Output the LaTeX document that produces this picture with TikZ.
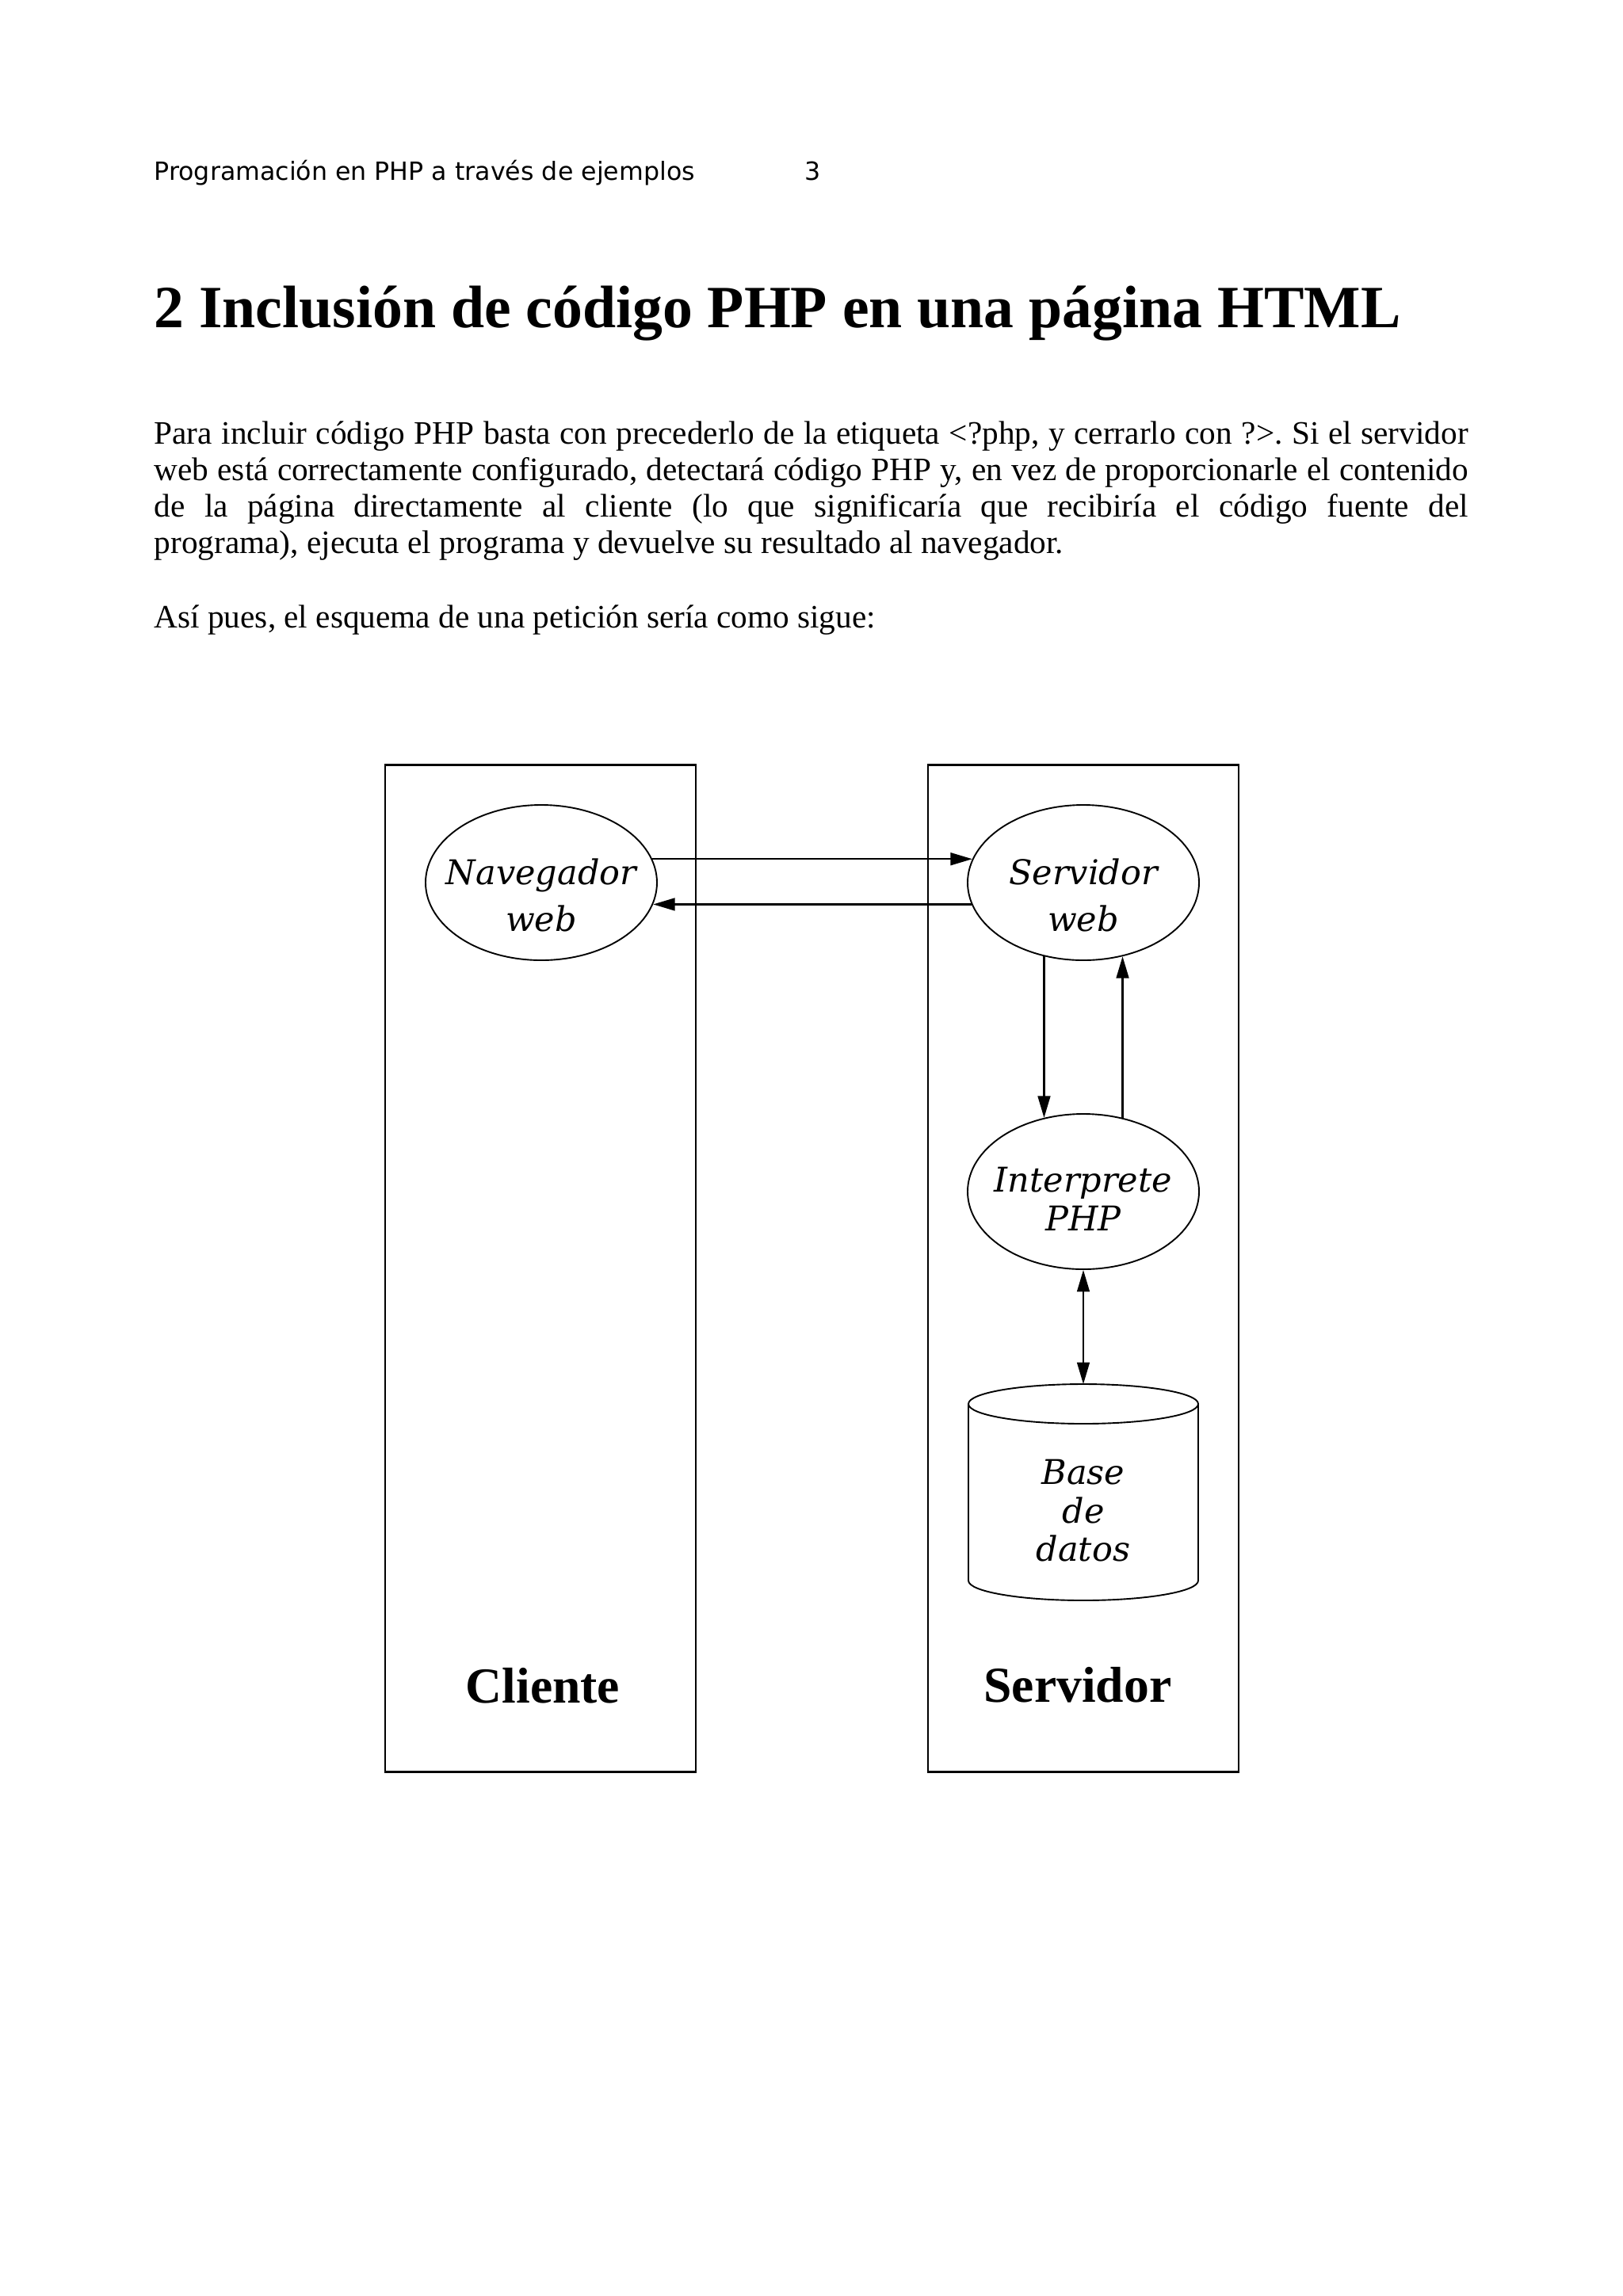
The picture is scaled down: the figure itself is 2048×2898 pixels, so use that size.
\documentclass[tikz,border=0pt]{standalone}
\usepackage{fontspec}
\setmainfont{Liberation Serif}
\newfontfamily\headfont{DejaVu Sans}
\newfontfamily\diagfont{DejaVu Serif}
\usepackage{tikz}
\usetikzlibrary{arrows.meta, shapes.geometric}

\begin{document}
\begin{tikzpicture}[x=0.2907pt, y=-0.2907pt, >={Triangle[length=8pt, width=4.6pt]},
    panel/.style={draw, line width=0.85pt, minimum width=392*\pxu, minimum height=1271*\pxu, inner sep=0pt},
    proc/.style={ellipse, draw, line width=0.55pt, minimum width=292*\pxu, minimum height=196*\pxu, inner sep=0pt},
    proctext/.style={font=\diagfont\itshape\fontsize{12.5}{17.2}\selectfont, align=center, inner sep=0pt},
    sidetext/.style={font=\bfseries\fontsize{18.5}{22}\selectfont, anchor=base, inner sep=0pt},
    flow/.style={->, line width=0.65pt},
    dbline/.style={line width=0.55pt}]
        % --- 定義: ページ単位 (1 = 1 px) ---
        \def\pxu{0.2907pt}
        \def\dbx{1367}
        \def\dbrx{145}
        \def\dbry{25}
        \def\dbtopY{1772}
        \def\dbbotY{1995}

        % --- ページ ---
        \path[use as bounding box, fill=white] (0,0) rectangle (2048,2898);

        % --- 見出しと本文 ---
        \node[anchor=base west, inner sep=0pt, font=\headfont\fontsize{9.2}{11}\selectfont] (header) at (194,227) {Programación en PHP a través de ejemplos};
        \node[anchor=base west, inner sep=0pt, font=\headfont\fontsize{9.2}{11}\selectfont] (pagenum) at (1015,227) {3};
        \node[anchor=base west, inner sep=0pt, font=\bfseries\fontsize{22}{26}\selectfont] (title) at (194,413) {2 Inclusión de código PHP en una página HTML};
        \node[anchor=base west, inner sep=0pt, text width=1658*\pxu, align=justify, font=\fontsize{12}{13.46}\selectfont] (intro) at (194,560) {\frenchspacing\hyphenpenalty=10000\relax Para incluir código PHP basta con precederlo de la etiqueta <?php, y cerrarlo con ?>. Si el servidor\linebreak web está correctamente configurado, detectará código PHP y, en vez de proporcionarle el contenido\linebreak de la página directamente al cliente (lo que significaría que recibiría el código fuente del\linebreak programa), ejecuta el programa y devuelve su resultado al navegador.};
        \node[anchor=base west, inner sep=0pt, font=\fontsize{12}{13.46}\selectfont] (lead) at (194,792) {Así pues, el esquema de una petición sería como sigue:};

        % --- 枠: Cliente / Servidor ---
        \node[panel] (cliente) at (682,1601) {};
        \node[panel] (servidor) at (1367,1601) {};
        \node[sidetext] (clientelbl) at (685,2149) {Cliente};
        \node[sidetext] (servidorlbl) at (1360,2148) {Servidor};

        % --- 楕円 ---
        \node[proc] (nav) at (683,1114) {};
        \node[proctext] (navtxt) at (683,1130) {Navegador\\web};
        \node[proc] (serv) at (1367,1114) {};
        \node[proctext] (servtxt) at (1367,1130) {Servidor\\web};
        \node[proc] (interp) at (1367,1504) {};
        \node[proctext, font=\diagfont\itshape\fontsize{12.5}{14.2}\selectfont] (interptxt) at (1367,1513) {Interprete\\PHP};

        % --- データベース (円柱) ---
        \draw[dbline] (\dbx,\dbtopY) ellipse [x radius=\dbrx, y radius=\dbry];
        \draw[dbline] (\dbx-\dbrx,\dbtopY) -- (\dbx-\dbrx,\dbbotY)
            arc[start angle=180, end angle=0, x radius=\dbrx, y radius=\dbry] -- (\dbx+\dbrx,\dbtopY);
        \coordinate (dbtop) at (\dbx,\dbtopY-\dbry);
        \node[proctext, font=\diagfont\itshape\fontsize{12.5}{14.1}\selectfont] (dbtxt) at (\dbx,1907) {Base\\de\\datos};

        % --- 矢印 ---
        \draw[flow] (nav.12) -- (serv.168);
        \draw[flow] (serv.191) -- (nav.349);
        \draw[flow] (serv.242) -- (serv.242 |- interp.118);
        \draw[flow] (interp.62) -- (interp.62 |- serv.298);
        \draw[flow, <->] (interp.south) -- (dbtop);

\end{tikzpicture}
\end{document}
